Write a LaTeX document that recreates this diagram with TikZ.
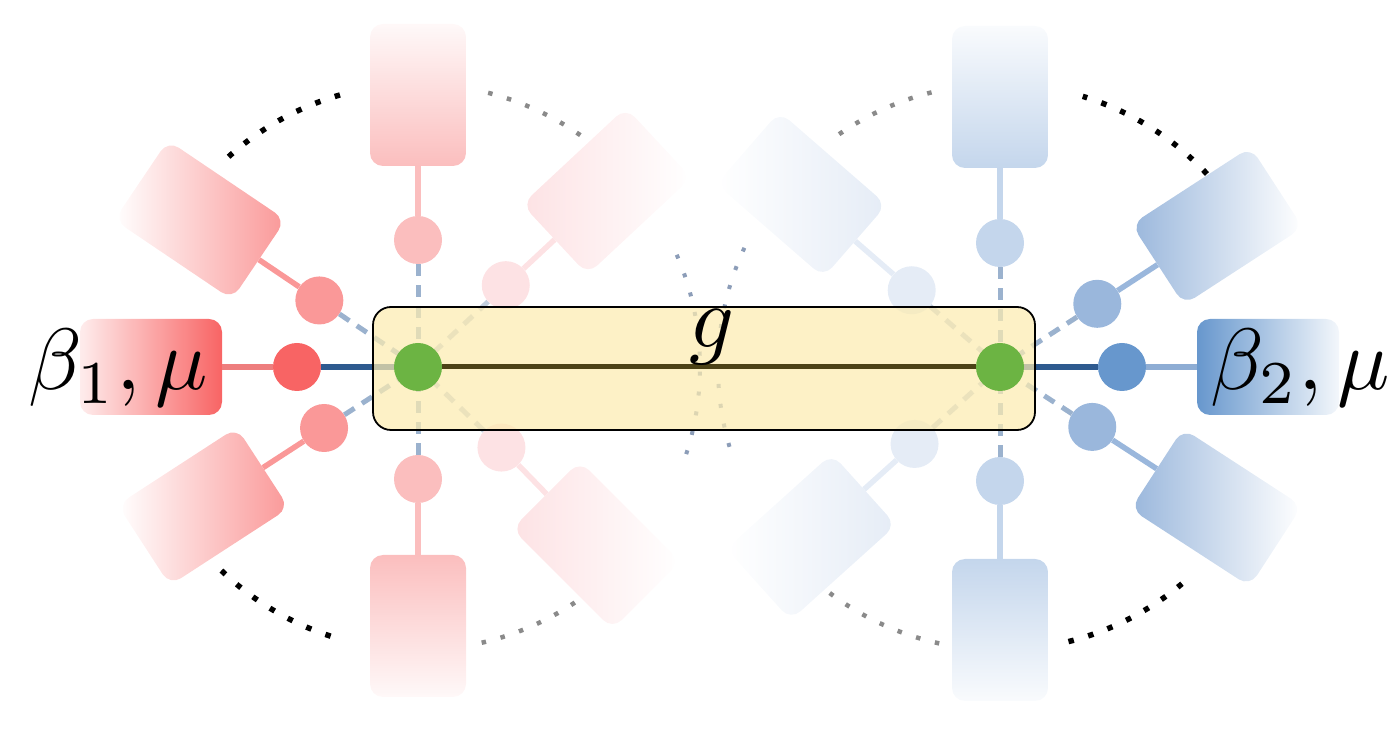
\documentclass[tikz,border=0pt]{standalone}
\definecolor{yfill}{HTML}{FCEBB0}
\definecolor{hubgreen}{HTML}{6CB443}
\definecolor{olivec}{HTML}{4C4216}
\definecolor{darkblue}{HTML}{2E5A8F}
\definecolor{dashc}{HTML}{9BB2CE}
\definecolor{dashfaint}{HTML}{C2CEDD}
\definecolor{dotgray}{HTML}{8A8A8A}
\definecolor{dotblue}{HTML}{8C9DB8}
\definecolor{rA}{HTML}{F86464}
\definecolor{rAl}{HTML}{EE7E7E}
\definecolor{rB}{HTML}{FA9898}
\definecolor{rC}{HTML}{FBBEBE}
\definecolor{rD}{HTML}{FDE2E4}
\definecolor{bA}{HTML}{6797CD}
\definecolor{bAl}{HTML}{8EADD4}
\definecolor{bB}{HTML}{9AB7DC}
\definecolor{bC}{HTML}{C4D6EC}
\definecolor{bD}{HTML}{E5ECF6}
\begin{document}
\begin{tikzpicture}[x=1pt,y=1pt,
  armbox/.style={rectangle, rounded corners=13pt, minimum width=96pt, minimum height=142pt, inner sep=0pt},
  armdot/.style={circle, minimum size=48pt, inner sep=0pt},
  hub/.style={circle, minimum size=48pt, inner sep=0pt, fill=hubgreen},
  link/.style={line width=5.5pt},
  dashlink/.style={line width=5pt, dash pattern=on 12pt off 9pt, color=dashc},
  faintlink/.style={line width=5pt, dash pattern=on 12pt off 9pt, color=dashfaint},
  blackdots/.style={line width=5.5pt, dash pattern=on 5.5pt off 15pt, black},
  graydots/.style={line width=4.5pt, dash pattern=on 4.5pt off 15pt, color=dotgray},
  bluedots/.style={line width=4pt, dash pattern=on 4pt off 16pt, color=dotblue},
  biglabel/.style={inner sep=0pt, scale=8.7},
]
\useasboundingbox (0,0) rectangle (1398,739);
\coordinate (L) at (418,372);
\coordinate (R) at (1000,372);

% dotted arcs around the left hub
\draw[blackdots] ([shift={(106:283)}]L) arc[start angle=106,end angle=133,radius=283pt];
\draw[blackdots] ([shift={(-134:283)}]L) arc[start angle=-134,end angle=-105,radius=283pt];
\draw[graydots] ([shift={(55:283)}]L) arc[start angle=55,end angle=76,radius=283pt];
\draw[graydots] ([shift={(-77:283)}]L) arc[start angle=-77,end angle=-53,radius=283pt];
\draw[bluedots] ([shift={(-18:282)}]L) arc[start angle=-18,end angle=25,radius=282pt];
% dotted arcs around the right hub
\draw[blackdots] ([shift={(43:283)}]R) arc[start angle=43,end angle=73,radius=283pt];
\draw[blackdots] ([shift={(-76:283)}]R) arc[start angle=-76,end angle=-48,radius=283pt];
\draw[graydots] ([shift={(104:283)}]R) arc[start angle=104,end angle=125,radius=283pt];
\draw[graydots] ([shift={(-127:283)}]R) arc[start angle=-127,end angle=-102,radius=283pt];
\draw[bluedots] ([shift={(155:282)}]R) arc[start angle=155,end angle=198,radius=282pt];

% left arm boxes (shading angle is measured on the page)
\node[armbox, rotate=90, top color=rA!12!white, bottom color=rA, shading angle=90] (l1b) at ([shift={(180:267)}]L) {};
\node[armbox, rotate=56, top color=white, bottom color=rB, shading angle=90] (l2b) at ([shift={(146:263)}]L) {};
\node[armbox, rotate=0, top color=rC!10!white, bottom color=rC, shading angle=0] (l3b) at ([shift={(90:272)}]L) {};
\node[armbox, rotate=-47, top color=white, bottom color=rD, shading angle=-90] (l4b) at ([shift={(43:258)}]L) {};
\node[armbox, rotate=-135, top color=white, bottom color=rD, shading angle=-90] (l5b) at ([shift={(-45:252)}]L) {};
\node[armbox, rotate=180, top color=rC!10!white, bottom color=rC, shading angle=180] (l6b) at ([shift={(-90:259)}]L) {};
\node[armbox, rotate=-237, top color=white, bottom color=rB, shading angle=90] (l7b) at ([shift={(-147:256)}]L) {};
% right arm boxes
\node[armbox, rotate=-90, top color=bA!8!white, bottom color=bA, shading angle=-90] (r1b) at ([shift={(0:268)}]R) {};
\node[armbox, rotate=-57, top color=white, bottom color=bB, shading angle=-90] (r2b) at ([shift={(33:259)}]R) {};
\node[armbox, rotate=0, top color=bC!10!white, bottom color=bC, shading angle=0] (r3b) at ([shift={(90:270)}]R) {};
\node[armbox, rotate=49, top color=white, bottom color=bD, shading angle=90] (r4b) at ([shift={(139:263)}]R) {};
\node[armbox, rotate=-228, top color=white, bottom color=bD, shading angle=90] (r5b) at ([shift={(-138:254)}]R) {};
\node[armbox, rotate=180, top color=bC!10!white, bottom color=bC, shading angle=180] (r6b) at ([shift={(-90:263)}]R) {};
\node[armbox, rotate=-123, top color=white, bottom color=bB, shading angle=-90] (r7b) at ([shift={(-33:258)}]R) {};

% left arm dots
\node[armdot, fill=rA] (l1c) at ([shift={(180:121)}]L) {};
\node[armdot, fill=rB] (l2c) at ([shift={(146:119)}]L) {};
\node[armdot, fill=rC] (l3c) at ([shift={(90:127)}]L) {};
\node[armdot, fill=rD] (l4c) at ([shift={(43:120)}]L) {};
\node[armdot, fill=rD] (l5c) at ([shift={(-44:116)}]L) {};
\node[armdot, fill=rC] (l6c) at ([shift={(-90:112)}]L) {};
\node[armdot, fill=rB] (l7c) at ([shift={(-147:112)}]L) {};
% right arm dots
\node[armdot, fill=bA] (r1c) at ([shift={(0:122)}]R) {};
\node[armdot, fill=bB] (r2c) at ([shift={(33:116)}]R) {};
\node[armdot, fill=bC] (r3c) at ([shift={(90:124)}]R) {};
\node[armdot, fill=bD] (r4c) at ([shift={(139:117)}]R) {};
\node[armdot, fill=bD] (r5c) at ([shift={(-138:115)}]R) {};
\node[armdot, fill=bC] (r6c) at ([shift={(-90:114)}]R) {};
\node[armdot, fill=bB] (r7c) at ([shift={(-33:110)}]R) {};

% box-to-dot links
\draw[link, color=rAl] (l1b) -- (l1c);
\draw[link, color=rB] (l2b) -- (l2c);
\draw[link, color=rC] (l3b) -- (l3c);
\draw[link, color=rD] (l4b) -- (l4c);
\draw[link, color=rD] (l5b) -- (l5c);
\draw[link, color=rC] (l6b) -- (l6c);
\draw[link, color=rB] (l7b) -- (l7c);
\draw[link, color=bAl] (r1b) -- (r1c);
\draw[link, color=bB] (r2b) -- (r2c);
\draw[link, color=bC] (r3b) -- (r3c);
\draw[link, color=bD] (r4b) -- (r4c);
\draw[link, color=bD] (r5b) -- (r5c);
\draw[link, color=bC] (r6b) -- (r6c);
\draw[link, color=bB] (r7b) -- (r7c);

% dot-to-hub links
\draw[link, color=darkblue] (l1c) -- (L);
\draw[dashlink] (l2c) -- (L);
\draw[dashlink] (l3c) -- (L);
\draw[faintlink] (l4c) -- (L);
\draw[faintlink] (l5c) -- (L);
\draw[dashlink] (l6c) -- (L);
\draw[dashlink] (l7c) -- (L);
\draw[link, color=darkblue] (r1c) -- (R);
\draw[dashlink] (r2c) -- (R);
\draw[dashlink] (r3c) -- (R);
\draw[faintlink] (r4c) -- (R);
\draw[faintlink] (r5c) -- (R);
\draw[dashlink] (r6c) -- (R);
\draw[dashlink] (r7c) -- (R);

% the g box
\node[draw=black, line width=1.8pt, rounded corners=18pt, minimum width=662pt, minimum height=123pt, inner sep=0pt, fill=yfill, fill opacity=0.72] (gbox) at (704,370.5) {};
\node[hub] (gL) at (L) {};
\node[hub] (gR) at (R) {};
\draw[line width=5pt, color=olivec] (gL) -- (gR);

% labels
\node[biglabel, scale=1.01, anchor=base] (glabel) at (712,391) {$g$};
\node[biglabel, anchor=base west] (b1label) at (27,349) {$\beta_1,\mu$};
\node[biglabel, anchor=base west] (b2label) at (1209,349) {$\beta_2,\mu$};
\end{tikzpicture}
\end{document}
